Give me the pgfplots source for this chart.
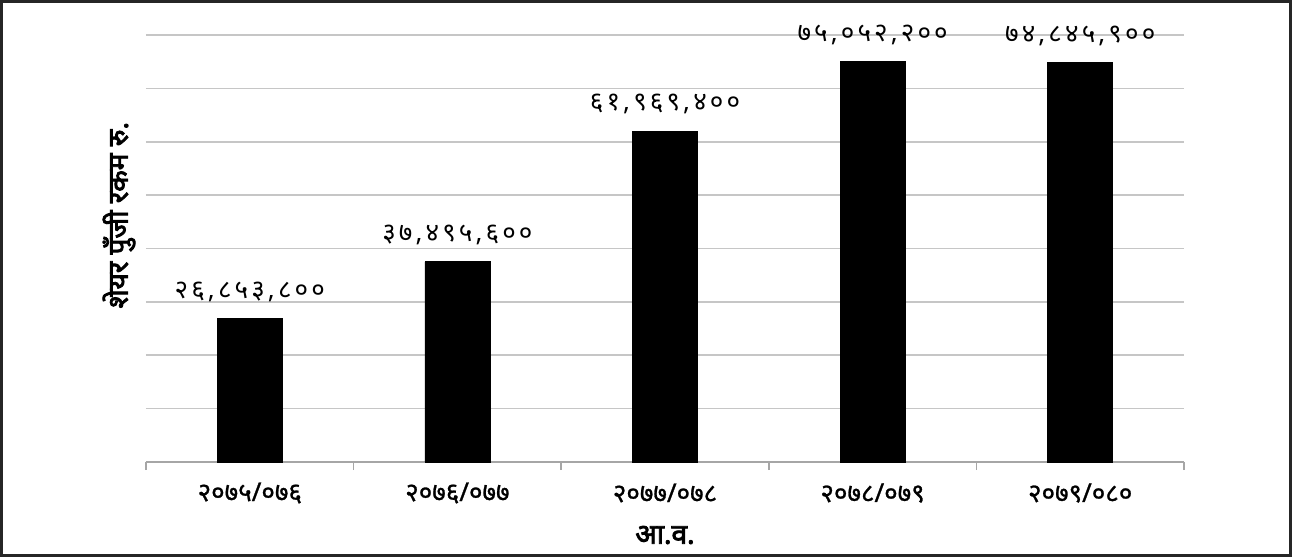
\documentclass[border=0pt]{standalone}
\usepackage{fontspec}
\usepackage{pgfplots}
\pgfplotsset{compat=1.18}
\usepackage{pgfplotstable}
\setmainfont{Noto Sans}
\newfontfamily\dev[Script=Devanagari]{Noto Sans}
\newfontfamily\devtick[Script=Devanagari, FakeBold=1]{Noto Sans}
\newfontfamily\devbold[Script=Devanagari, FakeBold=3]{Noto Sans}
\newfontfamily\devval[Script=Devanagari, LetterSpace=12]{Noto Sans}

\pgfplotstableread{
x y label
0 26853800 २६,८५३,८००
1 37495600 ३७,४९५,६००
2 61969400 ६१,९६९,४००
3 75052200 ७५,०५२,२००
4 74845900 ७४,८४५,९००
}\data

\begin{document}
\begin{tikzpicture}
\path[use as bounding box] (-73pt,-48pt) rectangle (574.5pt,231pt);
\begin{axis}[
  at={(0,0)}, anchor=south west,
  scale only axis, width=519pt, height=213.5pt,
  xmin=-0.5, xmax=4.5, ymin=0, ymax=80000000,
  scaled y ticks=false,
  ytick={0,10000000,20000000,30000000,40000000,50000000,60000000,70000000,80000000},
  ymajorgrids, grid style={draw=gray!45, line width=0.8pt},
  axis x line*=bottom, axis y line*=left,
  y axis line style={draw=none},
  x axis line style={draw=gray!70, line width=0.8pt},
  yticklabels={}, ytick style={draw=none},
  xtick={0,1,2,3,4},
  xticklabels={२०७५/०७६,२०७६/०७७,२०७७/०७८,२०७८/०७९,२०७९/०८०},
  major x tick style={draw=none},
  minor xtick={-0.5,0.5,1.5,2.5,3.5,4.5},
  minor x tick style={draw=gray!70, line width=0.8pt},
  tick align=outside, minor tick length=4pt, major tick length=4pt,
  xticklabel style={font=\devtick\fontsize{13}{15}\selectfont, anchor=center, yshift=-11.5pt},
  xlabel={\devbold आ.व.},
  xlabel style={at={(axis description cs:0.5,-0.171)}, anchor=center, font=\fontsize{14}{16}\selectfont},
  ylabel={\devbold शेयर पुँजी रकम रु.},
  ylabel style={at={(axis description cs:-0.026,0.578)}, anchor=center, rotate=0, font=\fontsize{14}{16}\selectfont},
  ybar, bar width=32.5pt,
  nodes near coords, point meta=explicit symbolic,
  nodes near coords style={font=\devval\fontsize{13}{15}\selectfont, anchor=south, yshift=5pt},
]
\addplot[fill=black, draw=black] table[x=x, y=y, meta=label] {\data};
\end{axis}
\draw[line width=1.3pt, black!85] (-72.3pt,-46.8pt) rectangle (572.3pt,230.3pt);
\end{tikzpicture}
\end{document}
